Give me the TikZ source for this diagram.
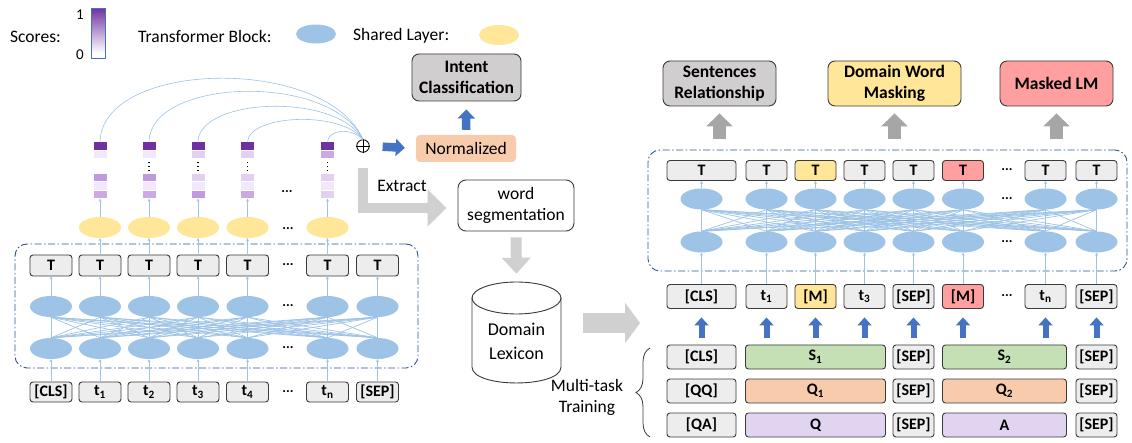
\documentclass[tikz,border=0pt]{standalone}
\usepackage{fontspec}
\setmainfont{Carlito}
\usetikzlibrary{shapes.geometric,arrows.meta,decorations.pathreplacing}

\definecolor{boxline}{HTML}{3A3A3A}
\definecolor{tokfill}{HTML}{EDEDED}
\definecolor{taskgray}{HTML}{D0CECE}
\definecolor{taskyellow}{HTML}{FFE699}
\definecolor{taskred}{HTML}{FF9F9F}
\definecolor{tblue}{HTML}{9DC3E6}
\definecolor{dblue}{HTML}{2F5597}
\definecolor{ablue}{HTML}{4472C4}
\definecolor{peach}{HTML}{F8CBAD}
\definecolor{sgreen}{HTML}{C5E0B4}
\definecolor{lav}{HTML}{E0D4F1}
\definecolor{pale}{HTML}{D0D0D0}
\definecolor{midgray}{HTML}{A6A6A6}
\definecolor{sdark}{HTML}{7030A0}
\definecolor{smed}{HTML}{C09ADF}
\definecolor{slm}{HTML}{CCA9E2}
\definecolor{slight}{HTML}{E1D0F0}
\definecolor{svl}{HTML}{F3E7FB}

\newcommand{\tokfont}{\fontsize{16}{18}\selectfont\bfseries}
\newcommand{\bigbold}{\fontsize{17.5}{21}\selectfont\bfseries}

% one column of attention scores: name, x, then the fills of cells 2..5
\newcommand{\scorecol}[6]{%
  \node[cell,fill=sdark] (#1t) at (#2,145.75) {};
  \node[cell,fill=#3] at (#2,154.25) {};
  \node[cell,fill=#4] at (#2,177.25) {};
  \node[cell,fill=#5] at (#2,185.75) {};
  \node[cell,fill=#6] (#1b) at (#2,194.25) {};
}
\newcommand{\vdotsat}[1]{%
  \foreach \yy in {162.5,166.5,170.5} \fill (#1-0.9,\yy-0.9) rectangle (#1+0.9,\yy+0.9);
}

\begin{document}
\begin{tikzpicture}[x=1pt,y=-1pt,
  font=\fontsize{17.5}{21}\selectfont,
  tok/.style={draw=boxline, fill=tokfill, rounded corners=3pt, line width=0.9pt,
    minimum width=42pt, minimum height=20pt, inner sep=0pt, font=\tokfont},
  task/.style={draw=boxline, rounded corners=7pt, line width=0.9pt,
    minimum width=113pt, minimum height=45pt, inner sep=0pt, align=center, font=\bigbold},
  blueell/.style={ellipse, fill=tblue, minimum width=42pt, minimum height=21pt, inner sep=0pt},
  yellell/.style={ellipse, fill=taskyellow, minimum width=42pt, minimum height=21pt, inner sep=0pt},
  cell/.style={minimum width=14pt, minimum height=8.5pt, inner sep=0pt, draw=white, line width=0.3pt},
  link/.style={draw=tblue, line width=0.6pt},
  crosslink/.style={draw=tblue, line width=0.7pt},
  linkarrow/.style={link, -{Stealth[length=3pt,width=3pt]}},
  dashbox/.style={draw=dblue, line width=0.9pt, dash pattern=on 7pt off 2.5pt on 1.5pt off 2.5pt,
    rounded corners=12pt},
  bluearr/.style={draw=ablue, line width=6pt, -{Triangle[width=14pt,length=8pt]}},
  bluebig/.style={draw=ablue, line width=8.5pt, -{Triangle[width=17pt,length=9pt]}},
  taskarr/.style={draw=midgray, line width=13pt, -{Triangle[width=26pt,length=13pt]}},
  palearr/.style={draw=pale, line width=10pt, -{Triangle[width=36pt,length=19pt]}},
  dotsnode/.style={inner sep=0pt, font=\fontsize{14}{14}\selectfont\bfseries},
]
\useasboundingbox (0,0) rectangle (1132,443);
\fill[white] (0,0) rectangle (1132,443);

% ---------- legend ----------
\node[anchor=west, inner sep=0pt] (lgS) at (10,37) {Scores:};
% colour bar, dark at the top fading to white, built from thin strips
\foreach \k in {0,...,49}{
  \pgfmathtruncatemacro{\pc}{max(0,100-2.2*\k)}
  \fill[sdark!\pc!white] (91,8+\k) rectangle (105,9.05+\k);
}
\draw[ablue, line width=0.7pt] (91,8) rectangle (105,58);
\node[font=\fontsize{15}{15}\selectfont] (lg1) at (80,15) {1};
\node[font=\fontsize{15}{15}\selectfont] (lg0) at (80,55) {0};
\node[anchor=west, inner sep=0pt] (lgT) at (138,36) {Transformer Block:};
\node[blueell, minimum width=40pt, minimum height=19pt] (lgTe) at (316,34) {};
\node[anchor=west, inner sep=0pt] (lgY) at (353,36) {Shared Layer:};
\node[yellell, minimum width=40pt, minimum height=20pt] (lgYe) at (499,35) {};

% ---------- left encoder ----------
\node[dashbox, minimum width=403pt, minimum height=124pt] (Lbox) at (216.5,306) {};
\foreach \i/\x/\lab in {1/51/{[CLS]},2/100/{t\textsubscript{1}},3/149/{t\textsubscript{2}},
    4/198/{t\textsubscript{3}},5/247.5/{t\textsubscript{4}},6/327.5/{t\textsubscript{n}},7/377.5/{[SEP]}}{
  \node[tok] (LK\i) at (\x,392) {\lab};
  \node[blueell] (LL\i) at (\x,348.5) {};
  \node[blueell] (LU\i) at (\x,306.5) {};
  \node[tok, minimum height=21pt] (LT\i) at (\x,265.5) {T};
  \draw[linkarrow] (LK\i.north) -- (LL\i.south);
  \draw[linkarrow] (LU\i.north) -- (LT\i.south);
}
\foreach \i in {1,...,7}{
  \foreach \j in {1,...,7}{
    \draw[crosslink] (LL\i.north) -- (LU\j.south);
  }
}
\foreach \yy in {265,306,348,392} \node[dotsnode] at (288,\yy) {...};

% shared layer and score columns
\foreach \i/\x in {2/100,3/149,4/198,5/247.5,6/327.5}{
  \node[yellell] (Y\i) at (\x,227.5) {};
  \draw[linkarrow] (LT\i.north) -- (Y\i.south);
}
\node[dotsnode] at (288,229) {...};
\node[dotsnode] at (287,192) {...};

\scorecol{S2}{100}{svl}{smed}{svl}{slm}
\scorecol{S3}{149}{svl}{smed}{svl}{slm}
\scorecol{S4}{198}{slight}{slight}{svl}{smed}
\scorecol{S5}{247.5}{slight}{slight}{svl}{slm}
\scorecol{S6}{327.5}{slm}{slight}{svl}{slight}
\vdotsat{149}
\vdotsat{198}
\vdotsat{247.5}
\vdotsat{327.5}
\foreach \i in {2,...,6} \draw[linkarrow] (Y\i.north) -- (S\i b.south);

% aggregation
\node[circle, draw=black, line width=0.8pt, minimum size=12.5pt, inner sep=0pt] (opl) at (363,146) {};
\draw[line width=0.8pt] (opl.north) -- (opl.south) (opl.west) -- (opl.east);
\draw[link] (S2t.north) .. controls (103,60) and (325,55) .. (opl.north);
\draw[link] (S3t.north) .. controls (151,78) and (330,72) .. (opl.north);
\draw[link] (S4t.north) .. controls (200,98) and (335,92) .. (opl.north);
\draw[link] (S5t.north) .. controls (250,115) and (340,110) .. (opl.north);
\draw[link] (S6t.north) .. controls (329,130) and (350,127) .. (opl.north);

\node[fill=peach, rounded corners=4pt, minimum width=100pt, minimum height=27pt, inner sep=0pt] (norm) at (466,148.5) {Normalized};
\node[task, fill=taskgray, minimum width=109pt, minimum height=47pt] (intent) at (466.5,77.5) {Intent\\Classification};
\draw[bluebig, shorten <=13pt, shorten >=11pt] (opl.east) -- (norm.west);
\draw[bluebig, shorten <=5pt, shorten >=8pt] (norm.north) -- (intent.south);

% lexicon extraction
\node[draw=boxline, fill=white, rounded corners=8pt, line width=0.9pt, minimum width=116pt,
  minimum height=51pt, inner sep=0pt, align=center] (wseg) at (516,205.5) {word\\segmentation};
\draw[palearr] ([yshift=-15.5pt]opl.south) |- ([xshift=-11pt,yshift=-2.5pt]wseg.west);
\node (extract) at (402,186) {Extract};

\node[minimum width=89pt, minimum height=101pt, inner sep=0pt] (lex) at (516.5,332.5) {};
\draw[line width=0.9pt, boxline] (472,298) -- (472,367) .. controls (472,388.3) and (561,388.3) .. (561,367) -- (561,298);
\draw[line width=0.9pt, boxline] (516.5,298) ellipse[x radius=44.5, y radius=16];
\node[align=center, inner sep=0pt, font=\fontsize{18}{24}\selectfont] (lextext) at (516.5,341) {Domain\\Lexicon};
\draw[palearr, line width=11pt, -{Triangle[width=28pt,length=16pt]}, shorten <=6pt, shorten >=8pt] (wseg.south) -- (lex.north);

\coordinate (bigS) at (583,323);
\coordinate (bigE) at (640,323);
\draw[palearr, line width=20pt, -{Triangle[width=40pt,length=15pt]}] (bigS) -- (bigE);

% ---------- right encoder ----------
\node[dashbox, minimum width=479pt, minimum height=121pt] (Rbox) at (887.5,210.5) {};
\foreach \i/\x/\w/\lab/\fc/\tc in {1/701.5/69/{[CLS]}/tokfill/tokfill,
    2/766.5/41/{t\textsubscript{1}}/tokfill/tokfill,
    3/815.5/41/{[M]}/taskyellow/taskyellow,
    4/864.5/41/{t\textsubscript{3}}/tokfill/tokfill,
    5/913.5/41/{[SEP]}/tokfill/tokfill,
    6/963/41/{[M]}/taskred/taskred,
    7/1045.5/41/{t\textsubscript{n}}/tokfill/tokfill,
    8/1096.5/41/{[SEP]}/tokfill/tokfill}{
  \node[tok, fill=\fc, minimum width=\w pt, minimum height=24pt] (RK\i) at (\x,296.5) {\lab};
  \node[blueell] (RL\i) at (\x,242) {};
  \node[blueell] (RU\i) at (\x,199) {};
  \node[tok, fill=\tc, minimum width=\w pt, minimum height=20pt] (RT\i) at (\x,170.5) {T};
  \draw[linkarrow] (RK\i.north) -- (RL\i.south);
  \draw[linkarrow] (RU\i.north) -- (RT\i.south);
}
\foreach \i in {1,...,8}{
  \foreach \j in {1,...,8}{
    \draw[crosslink] (RL\i.north) -- (RU\j.south);
  }
}
\foreach \yy in {170,199,242,296} \node[dotsnode] at (1007,\yy) {...};

% pre-training tasks
\node[task, fill=taskgray] (tSR) at (719.5,83.5) {Sentences\\Relationship};
\node[task, fill=taskyellow, minimum width=133pt] (tDW) at (894.5,83.5) {Domain Word\\Masking};
\node[task, fill=taskred] (tML) at (1056.5,83.5) {Masked LM};
\coordinate (tbase) at (0,139);
\draw[taskarr, shorten >=7pt] (tSR.south |- tbase) -- (tSR.south);
\draw[taskarr, shorten >=7pt] (tDW.south |- tbase) -- (tDW.south);
\draw[taskarr, shorten >=7pt] (tML.south |- tbase) -- (tML.south);

% ---------- multi-task inputs ----------
\foreach \r/\y/\a/\b/\fill/\c in {1/357/{[CLS]}/{S\textsubscript{1}}/sgreen/{S\textsubscript{2}},
    2/391/{[QQ]}/{Q\textsubscript{1}}/peach/{Q\textsubscript{2}},
    3/425/{[QA]}/{Q}/lav/{A}}{
  \node[tok, minimum width=69pt, minimum height=24pt] (B\r a) at (701.5,\y) {\a};
  \node[tok, fill=\fill, minimum width=140pt, minimum height=24pt] (B\r b) at (815.5,\y) {\b};
  \node[tok, minimum width=41pt, minimum height=24pt] (B\r c) at (913.5,\y) {[SEP]};
  \node[tok, fill=\fill, minimum width=124pt, minimum height=24pt] (B\r d) at (1004.5,\y) {\c};
  \node[tok, minimum width=41pt, minimum height=24pt] (B\r e) at (1096.5,\y) {[SEP]};
}
\foreach \i in {1,...,8}
  \draw[bluearr, shorten <=7pt, shorten >=8.5pt] (RK\i.south |- B1a.north) -- (RK\i.south);

\node[align=center, inner sep=0pt] (mtt) at (587,397) {Multi-task\\Training};
\draw[decorate, decoration={brace, amplitude=14pt}, line width=0.8pt, boxline]
  (650,437) -- (650,348);

\end{tikzpicture}
\end{document}
